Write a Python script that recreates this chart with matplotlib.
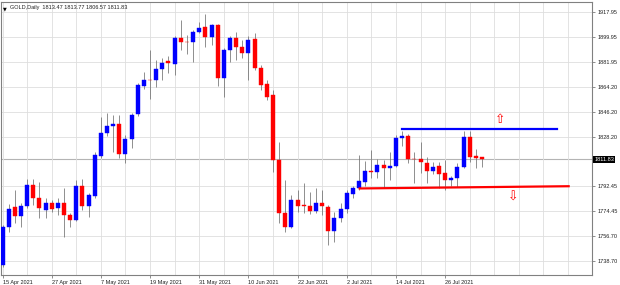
import matplotlib.pyplot as plt
import numpy as np
from matplotlib.transforms import blended_transform_factory

# daily OHLC, bar 0 = 15 Apr 2021 ... bar 78 = 3 Aug 2021 (weekdays only)
opens = [1735.8, 1763.2, 1777.6, 1771.1, 1778.3, 1793.4, 1784.0, 1775.4, 1780.4, 1776.8,
         1780.4, 1771.8, 1768.2, 1792.7, 1778.3, 1785.5, 1814.3, 1830.8, 1835.9, 1837.3,
         1815.7, 1826.5, 1844.5, 1864.7, 1869.0, 1869.0, 1876.9, 1882.7, 1880.5, 1899.2,
         1896.4, 1896.4, 1903.6, 1907.2, 1900.0, 1908.6, 1870.4, 1890.6, 1899.2, 1892.8,
         1888.4, 1898.5, 1877.6, 1866.1, 1858.2, 1811.4, 1773.2, 1763.2, 1782.6, 1779.0,
         1778.3, 1774.7, 1780.4, 1777.6, 1760.3, 1769.6, 1776.1, 1786.9, 1791.2, 1795.6,
         1803.5, 1802.8, 1807.8, 1805.6, 1807.1, 1827.2, 1828.7, 1812.1, 1812.1, 1809.2,
         1803.5, 1807.1, 1802.0, 1797.0, 1798.4, 1806.4, 1828.0, 1814.3, 1813.47]
highs = [1764.5, 1780.0, 1789.8, 1780.4, 1797.7, 1797.7, 1795.5, 1784.0, 1782.6, 1784.0,
         1791.2, 1773.0, 1797.0, 1797.7, 1787.6, 1817.2, 1842.4, 1845.2, 1843.8, 1843.8,
         1829.4, 1845.2, 1866.8, 1874.8, 1890.6, 1883.4, 1884.8, 1886.0, 1900.7, 1912.2,
         1901.4, 1905.0, 1910.8, 1916.5, 1909.3, 1909.3, 1892.0, 1900.7, 1903.6, 1897.8,
         1900.7, 1902.8, 1880.0, 1869.0, 1861.8, 1824.4, 1797.0, 1786.2, 1789.8, 1794.8,
         1788.4, 1791.2, 1789.8, 1779.0, 1774.0, 1780.4, 1789.8, 1792.7, 1815.0, 1810.7,
         1818.6, 1812.1, 1811.4, 1817.2, 1829.4, 1832.3, 1830.1, 1817.2, 1824.4, 1813.6,
         1810.0, 1810.0, 1811.4, 1800.0, 1809.2, 1832.3, 1832.3, 1819.3, 1813.77]
lows = [1734.5, 1759.6, 1766.0, 1763.2, 1776.8, 1779.0, 1769.6, 1769.6, 1774.0, 1771.8,
        1756.0, 1763.2, 1767.5, 1775.4, 1770.4, 1784.0, 1812.8, 1828.7, 1817.2, 1812.8,
        1809.2, 1820.0, 1843.1, 1862.5, 1855.0, 1864.0, 1869.0, 1874.0, 1872.6, 1890.6,
        1887.7, 1882.0, 1903.0, 1892.8, 1894.2, 1864.7, 1856.8, 1882.0, 1883.4, 1884.8,
        1869.0, 1876.2, 1861.8, 1854.6, 1802.8, 1766.0, 1759.6, 1762.5, 1774.0, 1773.2,
        1772.5, 1773.2, 1771.8, 1750.2, 1752.4, 1766.8, 1773.2, 1784.0, 1789.8, 1792.7,
        1798.4, 1798.4, 1791.2, 1797.0, 1806.4, 1821.5, 1809.2, 1794.8, 1802.0, 1794.8,
        1801.3, 1791.2, 1789.8, 1792.7, 1792.0, 1805.6, 1810.0, 1805.6, 1806.57]
closes = [1763.2, 1776.1, 1771.1, 1778.3, 1793.4, 1784.0, 1776.8, 1780.4, 1776.1, 1780.4,
          1771.8, 1768.2, 1792.7, 1778.3, 1786.2, 1815.0, 1830.8, 1835.9, 1837.3, 1815.7,
          1826.5, 1843.8, 1865.4, 1869.0, 1868.6, 1876.9, 1881.2, 1881.2, 1899.2, 1896.4,
          1896.0, 1903.6, 1906.4, 1900.0, 1908.6, 1870.4, 1890.6, 1899.2, 1892.8, 1888.4,
          1897.8, 1877.6, 1865.4, 1856.8, 1811.4, 1773.2, 1763.2, 1782.6, 1778.3, 1778.6,
          1774.7, 1780.4, 1778.3, 1760.3, 1769.6, 1776.1, 1787.6, 1791.2, 1796.3, 1803.5,
          1802.8, 1807.8, 1805.6, 1807.1, 1827.2, 1828.7, 1812.1, 1811.8, 1810.0, 1803.5,
          1806.4, 1801.3, 1797.0, 1798.4, 1806.4, 1828.0, 1813.6, 1812.8, 1811.83]

date_ticks = [0, 8, 16, 24, 32, 40, 48, 56, 64, 72]
date_labels = ["15 Apr 2021", "27 Apr 2021", "7 May 2021", "19 May 2021", "31 May 2021",
               "10 Jun 2021", "22 Jun 2021", "2 Jul 2021", "14 Jul 2021", "26 Jul 2021"]
price_levels = [1917.95, 1899.95, 1881.95, 1864.20, 1846.20, 1828.20,
                1792.45, 1774.45, 1756.70, 1738.70]
last_price = 1811.83

# drawn lines, in bars / price
resist_x = [65.0, 90.2]
resist_y = [1833.5, 1833.5]
support_x = [58.1, 92.1]
support_y = [1790.9, 1792.5]
arrow_up = (80.9, 1840.2)
arrow_down = (83.0, 1784.7)

fig = plt.figure(figsize=(6.2, 2.85), dpi=100)
ax = fig.add_axes([1 / 620, 1 - 275 / 285, 591 / 620, 273 / 285])

x = np.arange(len(opens))
o = np.array(opens)
c = np.array(closes)
up = c >= o
cols = np.where(up, "#0000ff", "#ff0000")

ax.vlines(x, lows, highs, color="#707070", lw=0.55, zorder=2)
body = np.maximum(np.abs(c - o), 0.5)
ax.bar(x, body, bottom=np.minimum(o, c), width=0.65, color=cols,
       edgecolor=cols, linewidth=0.3, zorder=3)

ax.axhline(last_price, color="#b4b4b4", lw=0.8, zorder=1)
ax.plot(resist_x, resist_y, color="#0000ff", lw=1.6, zorder=4)
ax.plot(support_x, support_y, color="#ff0000", lw=1.6, zorder=4)
ax.text(arrow_up[0], arrow_up[1], "\u21e7", color="#ff0000", fontsize=9,
        ha="center", va="center", zorder=5)
ax.text(arrow_down[0], arrow_down[1], "\u21e9", color="#ff0000", fontsize=9,
        ha="center", va="center", zorder=5)

ax.set_xlim(-0.25, 95.9)
ax.set_ylim(1728.6, 1925.1)

ax.set_xticks(date_ticks)
ax.set_xticklabels(date_labels, ha="left")
ax.set_xticks(np.arange(0, 96, 4), minor=True)
ax.yaxis.tick_right()
ax.set_yticks(price_levels)
ax.set_yticklabels(["%.2f" % v for v in price_levels])
ax.tick_params(axis="both", which="major", labelsize=4, length=2.5, width=0.5,
               color="#606060", pad=1.2, labelcolor="#202020")
ax.tick_params(axis="x", which="minor", length=0)
for lab in ax.get_xticklabels() + ax.get_yticklabels():
    lab.set_family("Liberation Sans")

ax.grid(True, which="both", color="#dedede", lw=0.6, zorder=0)
for s in ax.spines.values():
    s.set_color("#808080")
    s.set_linewidth(0.8)

tr = blended_transform_factory(ax.transAxes, ax.transData)
ax.text(1.004, last_price, "%.2f" % last_price, transform=tr, color="white",
        fontsize=4, family="Liberation Sans", va="center", ha="left",
        bbox=dict(facecolor="black", edgecolor="none", pad=0.8))

ax.text(0.004, 0.985, "\u25bc", transform=ax.transAxes, fontsize=3.5, va="top", ha="left")
ax.text(0.016, 0.988, "GOLD,Daily  1813.47 1813.77 1806.57 1811.83", transform=ax.transAxes,
        fontsize=4, family="Liberation Sans", va="top", ha="left", color="#202020")

fig.savefig("out.png", dpi=100)
